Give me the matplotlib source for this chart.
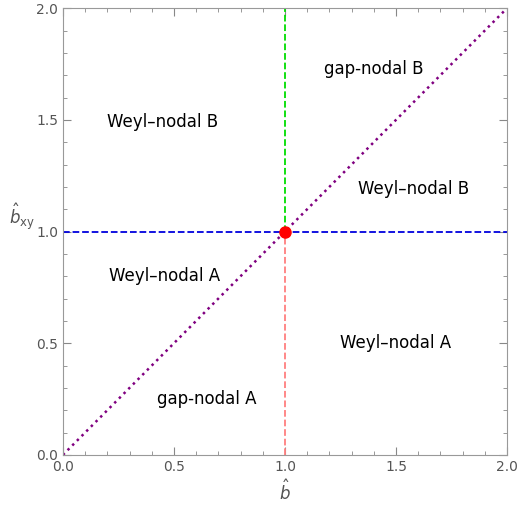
import matplotlib
matplotlib.use('Agg')
import matplotlib.pyplot as plt

# region labels and positions in data coords
labels = ['gap-nodal B', 'Weyl\u2013nodal B', 'Weyl\u2013nodal B', 'Weyl\u2013nodal A', 'Weyl\u2013nodal A', 'gap-nodal A']
label_x = [1.40, 0.45, 1.58, 0.46, 1.50, 0.65]
label_y = [1.73, 1.49, 1.19, 0.80, 0.50, 0.25]

diag = [0, 2]
crit_b = 1.0
crit_bxy = 1.0
ticks = [0.0, 0.5, 1.0, 1.5, 2.0]

fig = plt.figure(figsize=(5.2, 5.14), dpi=100)
ax = fig.add_axes([0.121, 0.115, 0.854, 0.869])

ax.plot(diag, diag, color='#800080', ls=':', lw=1.8)
ax.plot([crit_b, crit_b], [crit_bxy, 2], color='#00dd00', ls='--', lw=1.3)
ax.plot([crit_b, crit_b], [0, crit_bxy], color='#ff7f7f', ls='--', lw=1.3)
ax.plot([0, 2], [crit_bxy, crit_bxy], color='#0000dd', ls='--', lw=1.3)
ax.plot([crit_b], [crit_bxy], 'o', color='red', ms=8, zorder=5)

for t, x, y in zip(labels, label_x, label_y):
    ax.text(x, y, t, ha='center', va='center', fontsize=12)

ax.set_xlim(0, 2)
ax.set_ylim(0, 2)
ax.set_xticks(ticks)
ax.set_yticks(ticks)
ax.set_xticks([i * 0.1 for i in range(21)], minor=True)
ax.set_yticks([i * 0.1 for i in range(21)], minor=True)
ax.tick_params(direction='in', which='both', colors='#888888', labelcolor='#555555', labelsize=10,
               top=True, right=True, labeltop=False, labelright=False)
ax.tick_params(which='major', length=6)
ax.tick_params(which='minor', length=3)
for s in ax.spines.values():
    s.set_color('#999999')

ax.set_xlabel(r'$\hat{b}$', color='#555555', fontsize=12)
ax.set_ylabel(r'$\hat{b}_{\mathrm{xy}}$', color='#555555', fontsize=12, rotation=0, labelpad=10)

fig.savefig('out.png', dpi=100)
